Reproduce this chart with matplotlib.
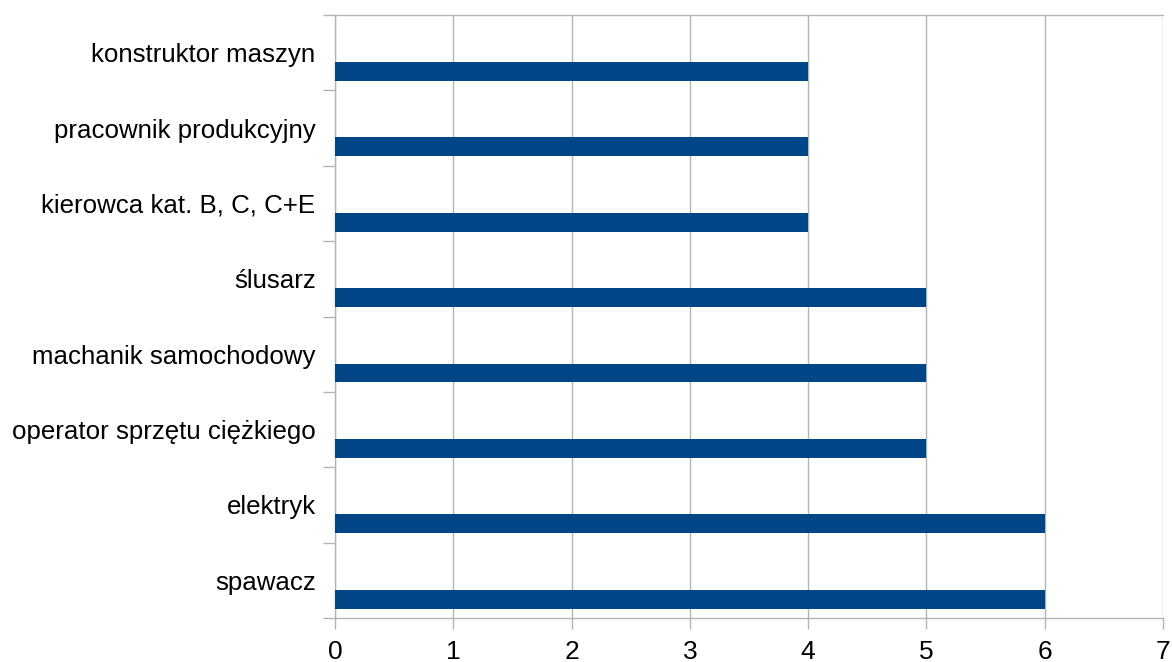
import numpy as np
import matplotlib
matplotlib.use("Agg")
import matplotlib.pyplot as plt

plt.rcParams['font.family'] = ['Liberation Sans', 'DejaVu Sans']

# categories from bottom to top
jobs = ["spawacz", "elektryk", "operator sprzętu ciężkiego", "machanik samochodowy",
        "ślusarz", "kierowca kat. B, C, C+E", "pracownik produkcyjny", "konstruktor maszyn"]
counts = [6, 6, 5, 5, 5, 4, 4, 4]
xticks = [0, 1, 2, 3, 4, 5, 6, 7]

bar_color = "#004586"
grid_color = "#b3b3b3"

fig = plt.figure(figsize=(11.72, 6.62), dpi=100)
ax = fig.add_axes([335 / 1172, 1 - 618 / 662, (1163 - 335) / 1172, (618 - 15) / 662])

pos = np.arange(len(jobs))
ax.barh(pos - 0.25, counts, height=0.25, color=bar_color, zorder=3)

ax.set_xlim(0, 7)
ax.set_ylim(-0.5, len(jobs) - 0.5)
ax.set_xticks(xticks)
ax.set_xticklabels([str(v) for v in xticks], fontsize=19)
ax.grid(axis="x", color=grid_color, linewidth=1, zorder=0)

ax.set_yticks(pos)
ax.set_yticklabels(jobs, fontsize=18.6)
ax.set_yticks(np.arange(-0.5, len(jobs)), minor=True)
ax.tick_params(axis="y", which="major", length=0, pad=14)
ax.tick_params(axis="y", which="minor", length=9, color=grid_color, width=1)
ax.tick_params(axis="x", length=8, color=grid_color, width=1, pad=8)

for side in ["left", "bottom", "top"]:
    ax.spines[side].set_color(grid_color)
    ax.spines[side].set_linewidth(1)
ax.spines["right"].set_visible(False)

fig.savefig("out.png", dpi=100)
